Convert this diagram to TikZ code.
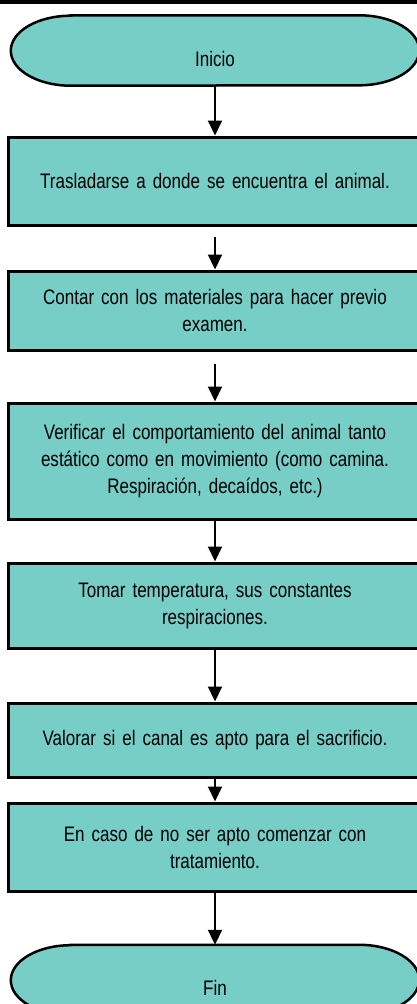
\documentclass[tikz,border=0pt]{standalone}
\usepackage{fontspec}
\setmainfont{Liberation Sans}[FakeStretch=0.81, WordSpace=0.8]
\usepackage{tikz}
\usetikzlibrary{arrows.meta, positioning, calc, backgrounds}
\definecolor{flowteal}{RGB}{118, 206, 199}

\begin{document}
\begin{tikzpicture}[x=1pt,y=1pt,
	font=\fontsize{21}{27}\selectfont,
	paso/.style={draw, line width=3pt, fill=flowteal, minimum width=414pt,
		text width=390pt, align=center, inner sep=0pt},
	terminal/.style={minimum width=408pt, minimum height=70pt, inner sep=0pt,
		text height=31pt, text depth=0pt},
	termline/.style={draw, line width=2.5pt, fill=flowteal},
	flecha/.style={line width=2pt, -{Triangle[width=14pt,length=15pt]}}]
	\useasboundingbox (0,0) rectangle (417,-1004);
	\draw[line width=4pt] (0,-2)--(417,-2);
	% pasos del diagrama
	\node[terminal] (inicio) at (215,-50.5) {Inicio};
	\node[paso, minimum height=88pt] (traslado) at (215,-181) {Trasladarse a donde se encuentra el animal.};
	\node[paso, minimum height=79pt] (materiales) at (215,-310.5) {Contar con los materiales para hacer previo\\ examen.};
	\node[paso, minimum height=116pt] (verificar) at (215,-461) {Verificar el comportamiento del animal tanto\\ estático como en movimiento (como camina.\\ Respiración, decaídos, etc.)};
	\node[paso, minimum height=85pt] (temperatura) at (215,-605.5) {Tomar temperatura, sus constantes\\ respiraciones.};
	\node[paso, minimum height=74pt] (valorar) at (215,-740) {Valorar si el canal es apto para el sacrificio.};
	\node[paso, minimum height=88pt] (tratamiento) at (215,-847) {En caso de no ser apto comenzar con\\ tratamiento.};
	\node[terminal] (fin) at (215,-980) {Fin};
	% formas de inicio y fin
	\begin{scope}[on background layer]
		\foreach \t in {inicio,fin}
			\draw[termline] ($(\t.north west)+(60,0)$) -- ($(\t.north east)+(-60,0)$)
				arc[start angle=90, end angle=-90, x radius=60, y radius=35]
				-- ($(\t.south west)+(60,0)$)
				arc[start angle=270, end angle=90, x radius=60, y radius=35] -- cycle;
	\end{scope}
	% flechas
	\draw[flecha] (inicio) -- (traslado);
	\draw[flecha, shorten <=10pt] (traslado) -- (materiales);
	\draw[flecha, shorten <=12pt] (materiales) -- (verificar);
	\foreach \a/\b in {verificar/temperatura, temperatura/valorar, valorar/tratamiento, tratamiento/fin}
		\draw[flecha] (\a) -- (\b);
\end{tikzpicture}
\end{document}
